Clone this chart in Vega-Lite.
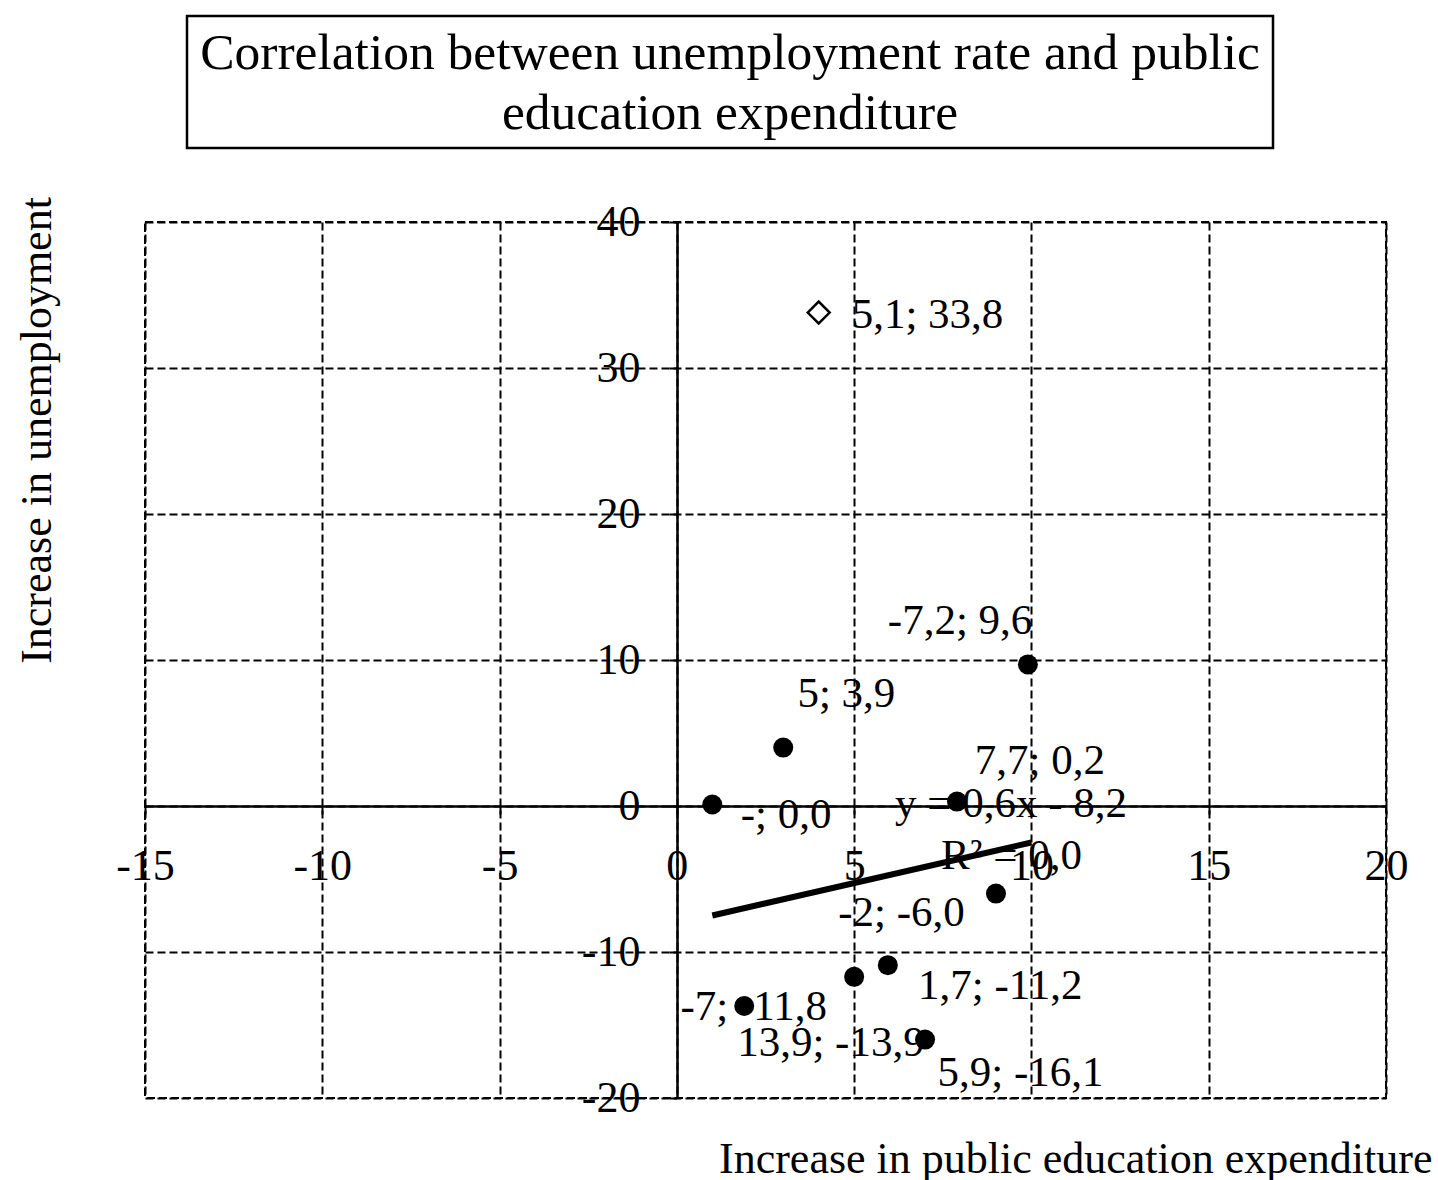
{
  "$schema": "https://vega.github.io/schema/vega-lite/v6.json",
  "config": {"font": "Liberation Serif", "view": {"stroke": null}},
  "padding": {"left": 14, "top": 14, "right": 5, "bottom": 0},
  "spacing": 45,
  "center": false,
  "datasets": {
    "points": [
      {"x": 1, "y": 0.1}, {"x": 3, "y": 4}, {"x": 9.9, "y": 9.7}, {"x": 7.9, "y": 0.3},
      {"x": 9, "y": -6}, {"x": 5.95, "y": -10.9}, {"x": 5, "y": -11.7}, {"x": 1.9, "y": -13.7}, {"x": 7, "y": -16}
    ],
    "outlier": [{"x": 4, "y": 33.8}],
    "trend": [{"x": 1, "y": -7.5}, {"x": 10, "y": -2.5}],
    "labels": [
      {"x": 4.93, "y": 33.6, "label": "5,1; 33,8"},
      {"x": 5.95, "y": 12.7, "label": "-7,2; 9,6"},
      {"x": 3.4, "y": 7.7, "label": "5; 3,9"},
      {"x": 8.4, "y": 3.1, "label": "7,7; 0,2"},
      {"x": 6.15, "y": 0.15, "label": "y = 0,6x - 8,2"},
      {"x": 1.8, "y": -0.6, "label": "-; 0,0"},
      {"x": 7.45, "y": -3.4, "label": "R² = 0,0"},
      {"x": 4.55, "y": -7.3, "label": "-2; -6,0"},
      {"x": 6.8, "y": -12.3, "label": "1,7; -11,2"},
      {"x": 0.1, "y": -13.8, "label": "-7; -11,8"},
      {"x": 1.7, "y": -16.2, "label": "13,9; -13,9"},
      {"x": 7.35, "y": -18.3, "label": "5,9; -16,1"}
    ],
    "title": [{"t": "Correlation between unemployment rate and public\neducation expenditure"}],
    "empty": []
  },
  "vconcat": [
    {
      "spacing": 39,
      "hconcat": [
        {
          "width": 1,
          "height": 132,
          "data": {"name": "empty"},
          "mark": {"type": "point", "opacity": 0},
          "encoding": {}
        },
        {
          "width": 1086,
          "height": 132,
          "view": {"stroke": "black", "strokeWidth": 2.5},
          "data": {"name": "title"},
          "mark": {"type": "text", "fontSize": 51.5, "lineBreak": "\n", "lineHeight": 60, "font": "Liberation Serif", "color": "black", "dy": -28},
          "encoding": {"text": {"field": "t", "type": "nominal"}}
        }
      ]
    },
    {
      "width": 1241,
      "height": 876,
      "view": {"stroke": "black", "strokeDash": [8, 4], "strokeWidth": 2},
      "encoding": {
        "x": {
          "field": "x", "type": "quantitative",
          "scale": {"domain": [-15, 20], "nice": false, "zero": false},
          "axis": {
            "orient": "bottom", "offset": -292, "values": [-15, -10, -5, 0, 5, 10, 15, 20],
            "labelExpr": "'' + datum.value",
            "grid": true, "gridColor": "black", "gridDash": [8, 4], "gridWidth": 2, "gridOpacity": 1,
            "domainColor": "black", "domainWidth": 2.5,
            "tickColor": "black", "tickSize": 8, "tickWidth": 2,
            "labelFont": "Liberation Serif", "labelFontSize": 44, "labelColor": "black", "labelPadding": 30, "labelFlush": false,
            "title": "Increase in public education expenditure",
            "titleFont": "Liberation Serif", "titleFontSize": 44, "titleFontWeight": "normal", "titleColor": "black",
            "titleX": 1287, "titleY": 331, "titleAlign": "right", "titleBaseline": "top", "titleAnchor": null
          }
        },
        "y": {
          "field": "y", "type": "quantitative",
          "scale": {"domain": [-20, 40], "nice": false, "zero": false},
          "axis": {
            "orient": "left", "offset": -532, "values": [-20, -10, 0, 10, 20, 30, 40],
            "labelExpr": "'' + datum.value",
            "grid": true, "gridColor": "black", "gridDash": [8, 4], "gridWidth": 2, "gridOpacity": 1,
            "domainColor": "black", "domainWidth": 2.5,
            "tickColor": "black", "tickSize": 8, "tickWidth": 2,
            "labelFont": "Liberation Serif", "labelFontSize": 44, "labelColor": "black", "labelPadding": 29, "labelFlush": false,
            "title": "Increase in unemployment",
            "titleFont": "Liberation Serif", "titleFontSize": 44, "titleFontWeight": "normal", "titleColor": "black",
            "titleX": -640, "titleY": 208, "titleAngle": -90, "titleAlign": "center", "titleBaseline": "middle", "titleAnchor": null
          }
        }
      },
      "layer": [
        {"data": {"name": "trend"}, "mark": {"type": "line", "color": "black", "strokeWidth": 6}},
        {"data": {"name": "points"}, "mark": {"type": "point", "shape": "circle", "filled": true, "size": 400, "color": "black", "opacity": 1}},
        {"data": {"name": "outlier"}, "mark": {"type": "point", "shape": "diamond", "filled": false, "size": 480, "color": "black", "strokeWidth": 2.5, "opacity": 1}},
        {
          "data": {"name": "labels"},
          "mark": {"type": "text", "align": "left", "baseline": "middle", "fontSize": 43, "font": "Liberation Serif", "color": "black"},
          "encoding": {"text": {"field": "label", "type": "nominal"}}
        }
      ]
    }
  ]
}
